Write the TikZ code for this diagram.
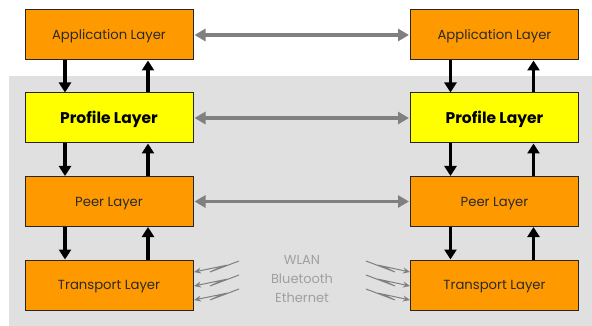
\documentclass[tikz,border=0pt]{standalone}
\usepackage{fontspec}
\setmainfont{Poppins}
\usetikzlibrary{arrows.meta}
\definecolor{lorange}{HTML}{FF9900}
\definecolor{lyellow}{HTML}{FFFF00}
\definecolor{bggray}{HTML}{E0E0E0}
\definecolor{arrgray}{HTML}{808080}
\definecolor{txtgray}{HTML}{A0A0A0}
\definecolor{labtxt}{HTML}{2A2A2A}
\tikzset{
  layerbox/.style={draw=black!85, line width=1pt, minimum width=168pt, minimum height=50pt, inner sep=0pt, font=\fontsize{13.2}{15}\selectfont, text=labtxt, text height=9.2pt, text depth=0pt},
  orangebox/.style={layerbox, fill=lorange},
  yellowbox/.style={layerbox, fill=lyellow, font=\fontsize{15.5}{17}\selectfont\bfseries, text=black, text height=10.8pt},
  varrow/.style={line width=3.5pt, black, -{Triangle[width=12pt,length=10pt]}},
  harrow/.style={line width=3.5pt, arrgray, {Triangle[width=12pt,length=11pt]}-{Triangle[width=12pt,length=11pt]}},
  bolt/.style={line width=1pt, arrgray, -{Stealth[width=6pt,length=7pt]}},
}
\begin{document}
\begin{tikzpicture}[x=1pt,y=-1pt]
\useasboundingbox (0,0) rectangle (592,326);
\fill[bggray] (9,76) rectangle (592,326);
% left column
\node[orangebox] (la) at (109,35) {Application Layer};
\node[yellowbox] (lp) at (109,118) {Profile Layer};
\node[orangebox] (lr) at (109,201.5) {Peer Layer};
\node[orangebox] (lt) at (109,285) {Transport Layer};
% right column
\node[orangebox] (ra) at (494.5,35) {Application Layer};
\node[yellowbox] (rp) at (494.5,118) {Profile Layer};
\node[orangebox] (rr) at (494.5,201.5) {Peer Layer};
\node[orangebox] (rt) at (494.5,285) {Transport Layer};
% vertical arrows
\foreach \a/\b in {la/lp, lp/lr, lr/lt, ra/rp, rp/rr, rr/rt}{
  \draw[varrow] ([xshift=-44pt]\a.south) -- ([xshift=-44pt]\b.north);
  \draw[varrow] ([xshift=39pt]\b.north) -- ([xshift=39pt]\a.south);
}
% horizontal arrows
\draw[harrow] ([xshift=1pt]la.east) -- ([xshift=-1pt]ra.west);
\draw[harrow] ([xshift=1pt]lp.east) -- ([xshift=-1pt]rp.west);
\draw[harrow] ([xshift=1pt]lr.east) -- ([xshift=-1pt]rr.west);
% bolts
\foreach \dy in {0,14,28}{
  \coordinate (ls\dy) at (239,261+\dy);
  \coordinate (le\dy) at (194,272+\dy);
  \draw[bolt] (ls\dy) -- (210,272+\dy) -- (223,266+\dy) -- (le\dy);
  \coordinate (rs\dy) at (366,261+\dy);
  \coordinate (re\dy) at (410,272+\dy);
  \draw[bolt] (rs\dy) -- (395,272+\dy) -- (382,266+\dy) -- (re\dy);
}
\node[text=txtgray, font=\fontsize{13}{19}\selectfont, align=center] (media) at (302,279) {WLAN\\Bluetooth\\Ethernet};
\end{tikzpicture}
\end{document}
